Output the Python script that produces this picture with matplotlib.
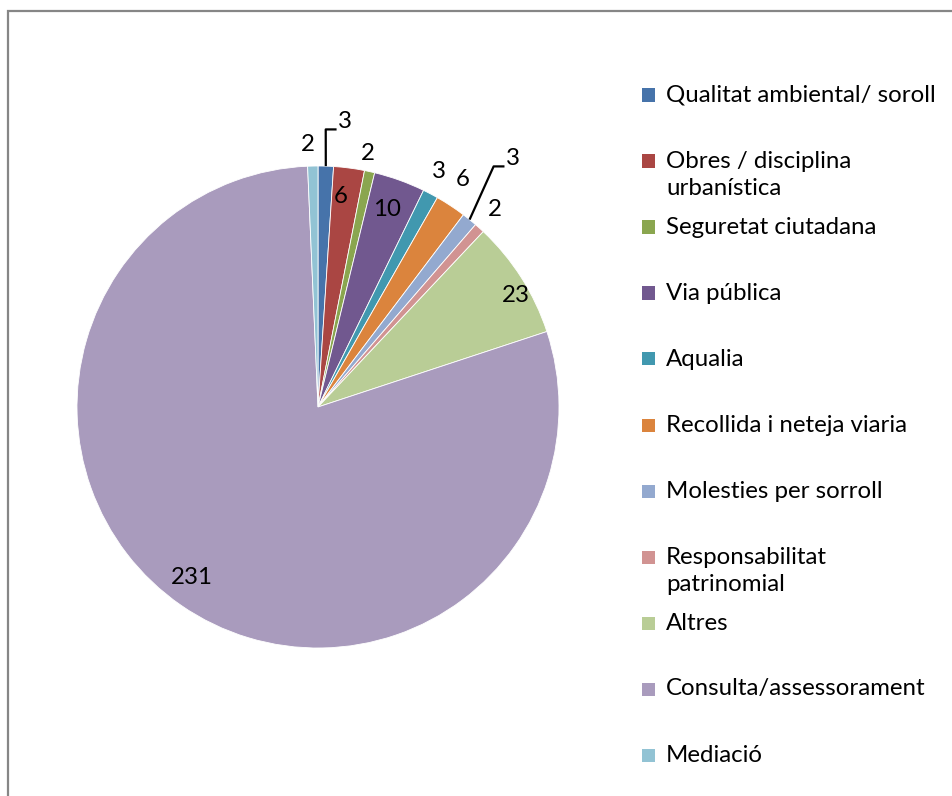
import matplotlib
matplotlib.use("Agg")
import matplotlib.pyplot as plt
from matplotlib.patches import Rectangle
import numpy as np

categories = ["Qualitat ambiental/ soroll", "Obres / disciplina\nurbanística",
              "Seguretat ciutadana", "Via pública", "Aqualia",
              "Recollida i neteja viaria", "Molesties per sorroll",
              "Responsabilitat\npatrinomial", "Altres", "Consulta/assessorament",
              "Mediació"]
values = [3, 6, 2, 10, 3, 6, 3, 2, 23, 231, 2]
colors = ["#4673AA", "#AA4643", "#8AA64F", "#71588F", "#4198AF", "#DB843D",
          "#93A9CF", "#D19392", "#B9CD96", "#A99BBD", "#92C3D4"]

# label placement (layout): radius factor, angle tweak (deg), leader line?
label_r = [1.19, 0.88, 1.07, 0.87, 1.10, 1.12, 1.31, 1.10, 0.94, 0.88, 1.09]
label_da = [-3.5, 1.2, 1.3, 0.5, 0.6, 1.0, 0.9, 0.1, -3.1, -1.9, 1.0]
leader = [True, False, False, False, False, False, True, False, False, False, False]

W, H = 953, 796
fig = plt.figure(figsize=(W / 100, H / 100), dpi=100)
FONT = "Lato"
plt.rcParams['font.family'] = [FONT, 'DejaVu Sans']
FS = 17.3

# outer frame
fig.patches.append(Rectangle((8 / W, -0.1), 1.2, (H - 11) / H + 0.1,
                             transform=fig.transFigure, fill=False,
                             edgecolor="#868686", linewidth=1.6))

cx, cy, R = 318, H - 407, 241
L = 1.3
side = 2 * L * R
ax = fig.add_axes([(cx - side / 2) / W, (cy - side / 2) / H, side / W, side / H])

wedges, _ = ax.pie(values, colors=colors, startangle=90, counterclock=False,
                   radius=1.0, wedgeprops=dict(edgecolor="white", linewidth=0.6))
ax.set_xlim(-L, L)
ax.set_ylim(-L, L)
ax.set_aspect("equal")
ax.axis("off")

for i, (w, v) in enumerate(zip(wedges, values)):
    mid = 0.5 * (w.theta1 + w.theta2)
    a = np.deg2rad(mid + label_da[i])
    lx, ly = label_r[i] * np.cos(a), label_r[i] * np.sin(a)
    ax.text(lx, ly, str(v), ha="center", va="center", fontsize=FS,
            color="black", clip_on=False)
    if leader[i]:
        am = np.deg2rad(mid)
        sx, sy = np.cos(am), np.sin(am)
        ex, ey = lx - 0.034, ly - 0.033
        hx = ex - 0.045
        ax.plot([sx, hx, ex], [sy, ey, ey], color="black", lw=1.6,
                clip_on=False, solid_capstyle="butt")

# legend
y0 = 95
dy = 66
for i, (c, col) in enumerate(zip(categories, colors)):
    yc = y0 + i * dy
    fig.patches.append(Rectangle((642 / W, (H - yc - 6.5) / H), 13 / W, 13 / H,
                                 transform=fig.transFigure, facecolor=col,
                                 edgecolor="none"))
    fig.text(666 / W, (H - yc + 10.5) / H, c, ha="left", va="top",
             fontsize=FS, color="black", linespacing=1.38)

fig.savefig("out.png", dpi=100, facecolor="white")
